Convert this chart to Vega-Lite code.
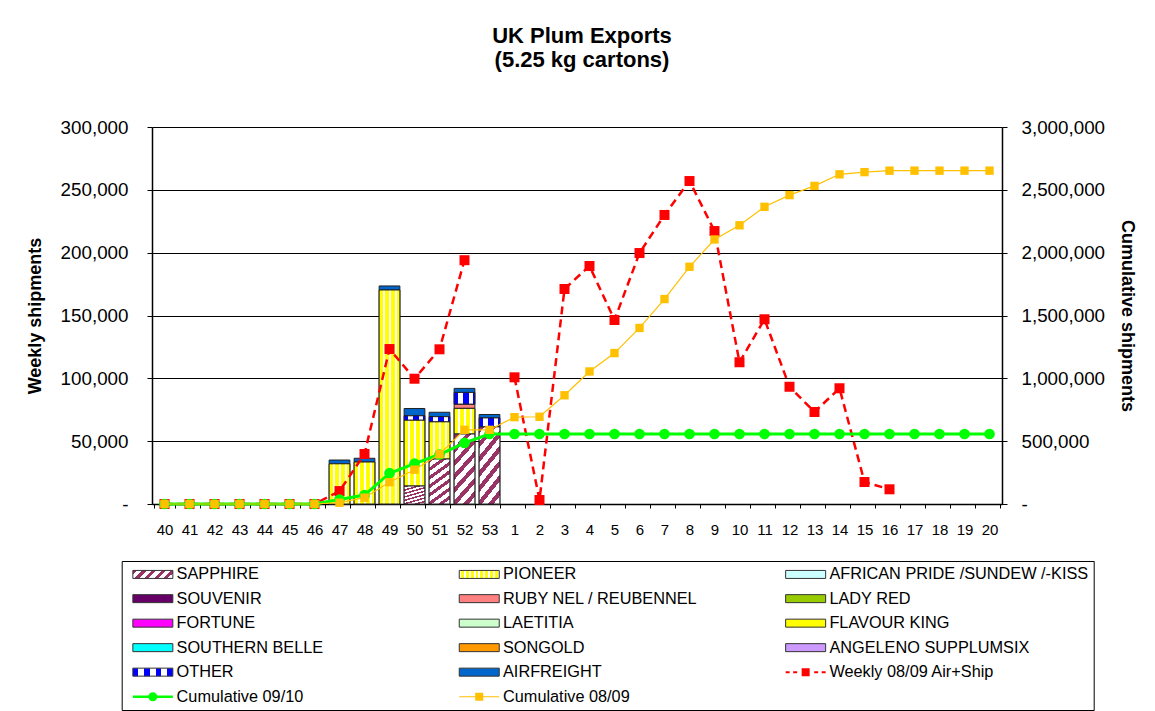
{
  "$schema": "https://vega.github.io/schema/vega-lite/v6.json",
  "width": 850,
  "height": 377,
  "autosize": "none",
  "padding": {"left": 152, "top": 127, "right": 153, "bottom": 207},
  "background": "white",
  "config": {"font": "Liberation Sans", "view": {"stroke": null}},
  "params": [
    {"name": "gSap", "value": {"gradient": "linear", "x1": 0, "y1": 0, "x2": 1.154, "y2": 0.231, "stops": [
      {"offset": 0, "color": "#993366"}, {"offset": 0.09, "color": "#993366"}, {"offset": 0.09, "color": "#ffffff"}, {"offset": 0.2, "color": "#ffffff"},
      {"offset": 0.2, "color": "#993366"}, {"offset": 0.29, "color": "#993366"}, {"offset": 0.29, "color": "#ffffff"}, {"offset": 0.4, "color": "#ffffff"},
      {"offset": 0.4, "color": "#993366"}, {"offset": 0.49, "color": "#993366"}, {"offset": 0.49, "color": "#ffffff"}, {"offset": 0.6, "color": "#ffffff"},
      {"offset": 0.6, "color": "#993366"}, {"offset": 0.69, "color": "#993366"}, {"offset": 0.69, "color": "#ffffff"}, {"offset": 0.8, "color": "#ffffff"},
      {"offset": 0.8, "color": "#993366"}, {"offset": 0.89, "color": "#993366"}, {"offset": 0.89, "color": "#ffffff"}, {"offset": 1, "color": "#ffffff"}]}},
    {"name": "gPio", "value": {"gradient": "linear", "x1": 0, "y1": 0, "x2": 1, "y2": 0, "stops": [
      {"offset": 0, "color": "#ffffff"}, {"offset": 0.05, "color": "#ffffff"}, {"offset": 0.05, "color": "#ffff00"}, {"offset": 0.12, "color": "#ffff00"},
      {"offset": 0.12, "color": "#ffffff"}, {"offset": 0.17, "color": "#ffffff"}, {"offset": 0.17, "color": "#ffff00"}, {"offset": 0.24, "color": "#ffff00"},
      {"offset": 0.24, "color": "#ffffff"}, {"offset": 0.29, "color": "#ffffff"}, {"offset": 0.29, "color": "#ffff00"}, {"offset": 0.36, "color": "#ffff00"},
      {"offset": 0.36, "color": "#ffffff"}, {"offset": 0.41, "color": "#ffffff"}, {"offset": 0.41, "color": "#ffff00"}, {"offset": 0.48, "color": "#ffff00"},
      {"offset": 0.48, "color": "#ffffff"}, {"offset": 0.53, "color": "#ffffff"}, {"offset": 0.53, "color": "#ffff00"}, {"offset": 0.6, "color": "#ffff00"},
      {"offset": 0.6, "color": "#ffffff"}, {"offset": 0.65, "color": "#ffffff"}, {"offset": 0.65, "color": "#ffff00"}, {"offset": 0.72, "color": "#ffff00"},
      {"offset": 0.72, "color": "#ffffff"}, {"offset": 0.77, "color": "#ffffff"}, {"offset": 0.77, "color": "#ffff00"}, {"offset": 0.84, "color": "#ffff00"},
      {"offset": 0.84, "color": "#ffffff"}, {"offset": 0.89, "color": "#ffffff"}, {"offset": 0.89, "color": "#ffff00"}, {"offset": 0.96, "color": "#ffff00"},
      {"offset": 0.96, "color": "#ffffff"}, {"offset": 1, "color": "#ffffff"}]}},
    {"name": "gOth", "value": {"gradient": "linear", "x1": 0, "y1": 0, "x2": 1, "y2": 0, "stops": [
      {"offset": 0, "color": "#0000ff"}, {"offset": 0.14, "color": "#0000ff"}, {"offset": 0.14, "color": "#ffffff"}, {"offset": 0.29, "color": "#ffffff"},
      {"offset": 0.29, "color": "#0000ff"}, {"offset": 0.43, "color": "#0000ff"}, {"offset": 0.43, "color": "#ffffff"}, {"offset": 0.57, "color": "#ffffff"},
      {"offset": 0.57, "color": "#0000ff"}, {"offset": 0.71, "color": "#0000ff"}, {"offset": 0.71, "color": "#ffffff"}, {"offset": 0.86, "color": "#ffffff"},
      {"offset": 0.86, "color": "#0000ff"}, {"offset": 1, "color": "#0000ff"}]}}
  ],
  "title": {
    "text": ["UK Plum Exports", "(5.25 kg cartons)"],
    "font": "Liberation Sans",
    "fontSize": 22,
    "fontWeight": "bold",
    "lineHeight": 24,
    "color": "#000",
    "anchor": "middle",
    "dx": 5,
    "offset": 46
  },
  "datasets": {
    "bars": [
      {"week": "47", "variety": "PIONEER", "ord": 2, "value": 32000},
      {"week": "47", "variety": "AIRFREIGHT", "ord": 14, "value": 3000},
      {"week": "48", "variety": "PIONEER", "ord": 2, "value": 33400},
      {"week": "48", "variety": "AIRFREIGHT", "ord": 14, "value": 3000},
      {"week": "49", "variety": "PIONEER", "ord": 2, "value": 170300},
      {"week": "49", "variety": "AIRFREIGHT", "ord": 14, "value": 3200},
      {"week": "50", "variety": "SAPPHIRE", "ord": 1, "value": 14300},
      {"week": "50", "variety": "PIONEER", "ord": 2, "value": 52500},
      {"week": "50", "variety": "OTHER", "ord": 13, "value": 3400},
      {"week": "50", "variety": "AIRFREIGHT", "ord": 14, "value": 5800},
      {"week": "51", "variety": "SAPPHIRE", "ord": 1, "value": 35800},
      {"week": "51", "variety": "PIONEER", "ord": 2, "value": 29700},
      {"week": "51", "variety": "OTHER", "ord": 13, "value": 4000},
      {"week": "51", "variety": "AIRFREIGHT", "ord": 14, "value": 3500},
      {"week": "52", "variety": "SAPPHIRE", "ord": 1, "value": 55700},
      {"week": "52", "variety": "PIONEER", "ord": 2, "value": 20400},
      {"week": "52", "variety": "RUBY NEL / REUBENNEL", "ord": 5, "value": 3400},
      {"week": "52", "variety": "OTHER", "ord": 13, "value": 9300},
      {"week": "52", "variety": "AIRFREIGHT", "ord": 14, "value": 3200},
      {"week": "53", "variety": "SAPPHIRE", "ord": 1, "value": 61500},
      {"week": "53", "variety": "OTHER", "ord": 13, "value": 7000},
      {"week": "53", "variety": "AIRFREIGHT", "ord": 14, "value": 2700}
    ],
    "lines": [
      {"week": "40", "seg": "a", "weekly": 0, "c0910": 0, "c0809": 0},
      {"week": "41", "seg": "a", "weekly": 0, "c0910": 0, "c0809": 0},
      {"week": "42", "seg": "a", "weekly": 0, "c0910": 0, "c0809": 0},
      {"week": "43", "seg": "a", "weekly": 0, "c0910": 0, "c0809": 0},
      {"week": "44", "seg": "a", "weekly": 0, "c0910": 0, "c0809": 0},
      {"week": "45", "seg": "a", "weekly": 0, "c0910": 0, "c0809": 0},
      {"week": "46", "seg": "a", "weekly": 0, "c0910": 0, "c0809": 0},
      {"week": "47", "seg": "a", "weekly": 10300, "c0910": 35000, "c0809": 10300},
      {"week": "48", "seg": "a", "weekly": 39800, "c0910": 71400, "c0809": 50100},
      {"week": "49", "seg": "a", "weekly": 123300, "c0910": 244900, "c0809": 173400},
      {"week": "50", "seg": "a", "weekly": 99700, "c0910": 320900, "c0809": 273100},
      {"week": "51", "seg": "a", "weekly": 123100, "c0910": 393900, "c0809": 396200},
      {"week": "52", "seg": "a", "weekly": 194000, "c0910": 485900, "c0809": 590200},
      {"week": "53", "seg": "a", "weekly": null, "c0910": 557100, "c0809": 590200},
      {"week": "1", "seg": "b", "weekly": 100800, "c0910": 557100, "c0809": 691000},
      {"week": "2", "seg": "b", "weekly": 3200, "c0910": 557100, "c0809": 694200},
      {"week": "3", "seg": "b", "weekly": 171100, "c0910": 557100, "c0809": 865300},
      {"week": "4", "seg": "b", "weekly": 189400, "c0910": 557100, "c0809": 1054700},
      {"week": "5", "seg": "b", "weekly": 146400, "c0910": 557100, "c0809": 1201100},
      {"week": "6", "seg": "b", "weekly": 199700, "c0910": 557100, "c0809": 1400800},
      {"week": "7", "seg": "b", "weekly": 230000, "c0910": 557100, "c0809": 1630800},
      {"week": "8", "seg": "b", "weekly": 257000, "c0910": 557100, "c0809": 1887800},
      {"week": "9", "seg": "b", "weekly": 217200, "c0910": 557100, "c0809": 2105000},
      {"week": "10", "seg": "b", "weekly": 112800, "c0910": 557100, "c0809": 2217800},
      {"week": "11", "seg": "b", "weekly": 147000, "c0910": 557100, "c0809": 2364800},
      {"week": "12", "seg": "b", "weekly": 93300, "c0910": 557100, "c0809": 2458100},
      {"week": "13", "seg": "b", "weekly": 73200, "c0910": 557100, "c0809": 2531300},
      {"week": "14", "seg": "b", "weekly": 92100, "c0910": 557100, "c0809": 2623400},
      {"week": "15", "seg": "b", "weekly": 17500, "c0910": 557100, "c0809": 2640900},
      {"week": "16", "seg": "b", "weekly": 11700, "c0910": 557100, "c0809": 2652600},
      {"week": "17", "seg": "b", "weekly": null, "c0910": 557100, "c0809": 2652600},
      {"week": "18", "seg": "b", "weekly": null, "c0910": 557100, "c0809": 2652600},
      {"week": "19", "seg": "b", "weekly": null, "c0910": 557100, "c0809": 2652600},
      {"week": "20", "seg": "b", "weekly": null, "c0910": 557100, "c0809": 2652600}
    ]
  },
  "layer": [
    {
      "layer": [
        {
          "data": {"name": "bars"},
          "mark": {"type": "bar", "stroke": "#222", "strokeWidth": 1},
          "encoding": {
            "x": {
              "field": "week", "type": "ordinal",
              "scale": {"domain": ["40","41","42","43","44","45","46","47","48","49","50","51","52","53","1","2","3","4","5","6","7","8","9","10","11","12","13","14","15","16","17","18","19","20"], "paddingInner": 0.17, "paddingOuter": 0.085},
              "axis": {"title": null, "labelAngle": 0, "labelFontSize": 15, "labelColor": "#000", "labelPadding": 14, "tickBand": "extent", "tickSize": 4, "tickColor": "#000", "domainColor": "#000", "domainWidth": 1.5, "grid": false}
            },
            "y": {
              "field": "value", "type": "quantitative", "stack": "zero",
              "scale": {"domain": [0, 300000], "nice": false},
              "axis": {"title": "Weekly shipments", "titleFontSize": 18, "titleFontWeight": "bold", "titleColor": "#000", "titlePadding": 16, "values": [0,50000,100000,150000,200000,250000,300000], "labelExpr": "datum.value === 0 ? '-' : format(datum.value, ',')", "labelFontSize": 18.8, "labelColor": "#000", "labelPadding": 19, "tickSize": 5, "tickColor": "#000", "domainColor": "#000", "domainWidth": 1.5, "grid": true, "gridColor": "#000", "gridOpacity": 1, "gridWidth": 1}
            },
            "order": {"field": "ord", "type": "quantitative"},
            "color": {
              "field": "variety", "type": "nominal",
              "scale": {
                "domain": ["SAPPHIRE", "PIONEER", "AFRICAN PRIDE /SUNDEW /-KISS", "SOUVENIR", "RUBY NEL / REUBENNEL", "LADY RED", "FORTUNE", "LAETITIA", "FLAVOUR KING", "SOUTHERN BELLE", "SONGOLD", "ANGELENO SUPPLUMSIX", "OTHER", "AIRFREIGHT", "Weekly 08/09 Air+Ship", "Cumulative 09/10", "Cumulative 08/09"],
                "range": [{"expr": "gSap"}, {"expr": "gPio"}, "#ccffff", "#660066", "#ff8080", "#99cc00", "#ff00ff", "#ccffcc", "#ffff00", "#00ffff", "#ff9900", "#cc99ff", {"expr": "gOth"}, "#0066cc", "#ff0000", "#00ff00", "#ffc000"]
              },
              "legend": {
                "orient": "none", "legendX": -30.3, "legendY": 434, "direction": "horizontal",
                "title": null, "columns": 3, "gridAlign": "all", "columnPadding": 17.4, "rowPadding": 7.5,
                "padding": 5, "strokeColor": "#000",
                "labelFont": "Liberation Sans", "labelFontSize": 16.3, "labelColor": "#000", "labelLimit": 400,
                "symbolSize": 100, "symbolType": "M-4,-0.8H4V0.8H-4Z", "symbolOffset": 18, "labelOffset": 15.6,
                "symbolStrokeColor": "#333", "symbolStrokeWidth": 1, "symbolOpacity": 1,
                "encode": {
                  "symbols": {
                    "update": {
                      "shape": {"signal": "datum.value === 'Weekly 08/09 Air+Ship' ? 'M-4,-0.2H-3.2V0.2H-4Z M-2.5,-0.2H-1.7V0.2H-2.5Z M-0.8,-0.8H0.8V0.8H-0.8Z M1.7,-0.2H2.5V0.2H1.7Z M3.2,-0.2H4V0.2H3.2Z' : datum.value === 'Cumulative 09/10' ? 'M-4,-0.25H4V0.25H-4Z M-0.9,0A0.9,0.9 0 1,1 0.9,0A0.9,0.9 0 1,1 -0.9,0Z' : datum.value === 'Cumulative 08/09' ? 'M-4,-0.1H4V0.1H-4Z M-0.8,-0.8H0.8V0.8H-0.8Z' : 'M-4,-0.8H4V0.8H-4Z'"},
                      "stroke": {"signal": "indexof(['Weekly 08/09 Air+Ship','Cumulative 09/10','Cumulative 08/09'], datum.value) >= 0 ? 'transparent' : '#333'"}
                    }
                  }
                }
              }
            }
          }
        },
        {
          "data": {"name": "bars"},
          "transform": [
            {"stack": "value", "groupby": ["week"], "sort": [{"field": "ord", "order": "ascending"}], "as": ["v0", "v1"]},
            {"filter": "datum.variety === 'PIONEER'"}
          ],
          "mark": {"type": "bar", "stroke": "#222", "strokeWidth": 1, "fill": {"gradient": "linear", "x1": 0, "y1": 0, "x2": 1, "y2": 0, "stops": [
            {"offset": 0, "color": "#ffff00"}, {"offset": 0.19, "color": "#ffff00"}, {"offset": 0.19, "color": "#ffffff"}, {"offset": 0.29, "color": "#ffffff"},
            {"offset": 0.29, "color": "#ffff00"}, {"offset": 0.48, "color": "#ffff00"}, {"offset": 0.48, "color": "#ffffff"}, {"offset": 0.58, "color": "#ffffff"},
            {"offset": 0.58, "color": "#ffff00"}, {"offset": 0.77, "color": "#ffff00"}, {"offset": 0.77, "color": "#ffffff"}, {"offset": 0.87, "color": "#ffffff"},
            {"offset": 0.87, "color": "#ffff00"}, {"offset": 1, "color": "#ffff00"}]}},
          "encoding": {
            "x": {"field": "week", "type": "ordinal"},
            "y": {"field": "v0", "type": "quantitative", "scale": {"domain": [0, 300000], "nice": false}, "title": "Weekly shipments"},
            "y2": {"field": "v1"}
          }
        },
        {
          "data": {"name": "bars"},
          "transform": [
            {"stack": "value", "groupby": ["week"], "sort": [{"field": "ord", "order": "ascending"}], "as": ["v0", "v1"]},
            {"filter": "datum.variety === 'SAPPHIRE'"}
          ],
          "mark": {"type": "bar", "stroke": "#222", "strokeWidth": 1, "fill": {"gradient": "linear", "x1": 0, "y1": 0, "x2": 0.4, "y2": 1.2, "stops": [
            {"offset": 0, "color": "#993366"}, {"offset": 0.065, "color": "#993366"}, {"offset": 0.065, "color": "#ffffff"}, {"offset": 0.143, "color": "#ffffff"},
            {"offset": 0.143, "color": "#993366"}, {"offset": 0.208, "color": "#993366"}, {"offset": 0.208, "color": "#ffffff"}, {"offset": 0.286, "color": "#ffffff"},
            {"offset": 0.286, "color": "#993366"}, {"offset": 0.351, "color": "#993366"}, {"offset": 0.351, "color": "#ffffff"}, {"offset": 0.429, "color": "#ffffff"},
            {"offset": 0.429, "color": "#993366"}, {"offset": 0.494, "color": "#993366"}, {"offset": 0.494, "color": "#ffffff"}, {"offset": 0.571, "color": "#ffffff"},
            {"offset": 0.571, "color": "#993366"}, {"offset": 0.636, "color": "#993366"}, {"offset": 0.636, "color": "#ffffff"}, {"offset": 0.714, "color": "#ffffff"},
            {"offset": 0.714, "color": "#993366"}, {"offset": 0.779, "color": "#993366"}, {"offset": 0.779, "color": "#ffffff"}, {"offset": 0.857, "color": "#ffffff"},
            {"offset": 0.857, "color": "#993366"}, {"offset": 0.922, "color": "#993366"}, {"offset": 0.922, "color": "#ffffff"}, {"offset": 1, "color": "#ffffff"}]}},
          "encoding": {
            "x": {"field": "week", "type": "ordinal"},
            "y": {"field": "v0", "type": "quantitative", "scale": {"domain": [0, 300000], "nice": false}, "title": "Weekly shipments"},
            "y2": {"field": "v1"}
          }
        },
        {
          "data": {"name": "bars"},
          "transform": [
            {"stack": "value", "groupby": ["week"], "sort": [{"field": "ord", "order": "ascending"}], "as": ["v0", "v1"]},
            {"filter": "datum.variety === 'OTHER'"}
          ],
          "mark": {"type": "bar", "stroke": "#222", "strokeWidth": 1, "fill": {"gradient": "linear", "x1": 0, "y1": 0, "x2": 1, "y2": 0, "stops": [
            {"offset": 0, "color": "#0000ff"}, {"offset": 0.2, "color": "#0000ff"}, {"offset": 0.2, "color": "#ffffff"}, {"offset": 0.45, "color": "#ffffff"},
            {"offset": 0.45, "color": "#0000ff"}, {"offset": 0.7, "color": "#0000ff"}, {"offset": 0.7, "color": "#ffffff"}, {"offset": 0.9, "color": "#ffffff"},
            {"offset": 0.9, "color": "#0000ff"}, {"offset": 1, "color": "#0000ff"}]}},
          "encoding": {
            "x": {"field": "week", "type": "ordinal"},
            "y": {"field": "v0", "type": "quantitative", "scale": {"domain": [0, 300000], "nice": false}, "title": "Weekly shipments"},
            "y2": {"field": "v1"}
          }
        },
        {
          "data": {"name": "lines"},
          "mark": {"type": "line", "color": "#ff0000", "strokeWidth": 2.5, "strokeDash": [8, 5], "point": {"shape": "square", "size": 100, "filled": true, "color": "#ff0000", "opacity": 1}},
          "encoding": {
            "x": {"field": "week", "type": "ordinal"},
            "y": {"field": "weekly", "type": "quantitative", "scale": {"domain": [0, 300000], "nice": false}, "title": "Weekly shipments"},
            "detail": {"field": "seg", "type": "nominal"}
          }
        }
      ]
    },
    {
      "data": {"name": "lines"},
      "layer": [
        {
          "mark": {"type": "line", "color": "#00ff00", "strokeWidth": 3, "point": {"shape": "circle", "size": 115, "filled": true, "color": "#00ff00", "opacity": 1}},
          "encoding": {
            "x": {"field": "week", "type": "ordinal"},
            "y": {
              "field": "c0910", "type": "quantitative",
              "scale": {"domain": [0, 3000000], "nice": false},
              "axis": {"orient": "right", "title": "Cumulative shipments", "titleFontSize": 18, "titleFontWeight": "bold", "titleColor": "#000", "titlePadding": 13, "values": [0,500000,1000000,1500000,2000000,2500000,3000000], "labelExpr": "datum.value === 0 ? '-' : format(datum.value, ',')", "labelFontSize": 18.8, "labelColor": "#000", "labelPadding": 14, "tickSize": 5, "tickColor": "#000", "domainColor": "#000", "domainWidth": 1.5, "grid": false}
            }
          }
        },
        {
          "mark": {"type": "line", "color": "#ffc000", "strokeWidth": 1.2, "point": {"shape": "square", "size": 70, "filled": true, "color": "#ffc000", "opacity": 1}},
          "encoding": {
            "x": {"field": "week", "type": "ordinal"},
            "y": {"field": "c0809", "type": "quantitative", "scale": {"domain": [0, 3000000], "nice": false}, "title": "Cumulative shipments"}
          }
        }
      ]
    }
  ],
  "resolve": {"scale": {"y": "independent"}}
}
